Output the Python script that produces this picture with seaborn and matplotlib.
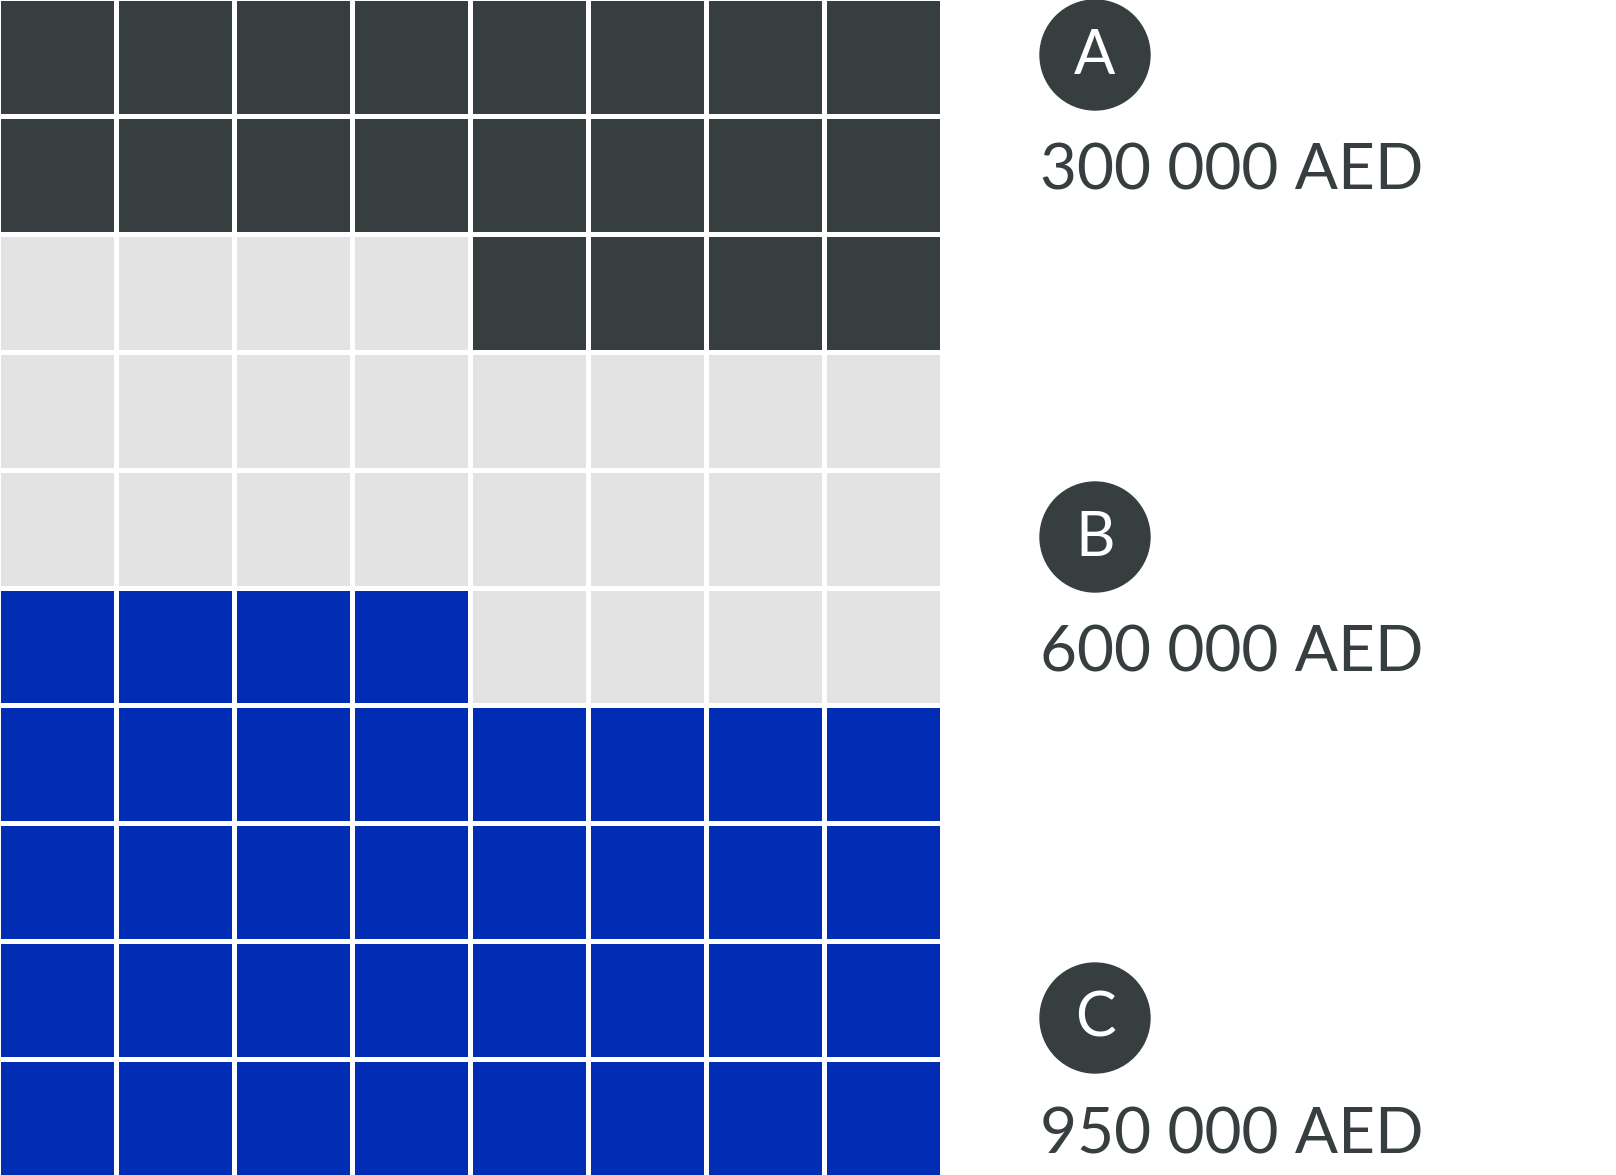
import numpy as np
import pandas as pd
import seaborn as sns
import matplotlib.pyplot as plt
from matplotlib.colors import ListedColormap
from matplotlib.patches import Circle

# Category data
labels = ["A", "B", "C"]
amounts = [300000, 600000, 950000]
cells = [20, 24, 36]          # squares per category in the waffle
colors = ["#373e40", "#e3e3e3", "#002db4"]
text_color = "#373e40"

n_rows, n_cols = 10, 8

# Waffle is filled from the bottom-left, row by row going up, starting with the last category
order = []
for idx in reversed(range(len(labels))):
    order += [idx] * cells[idx]
grid = np.array(order).reshape(n_rows, n_cols)[::-1]
waffle = pd.DataFrame(grid)

sns.set_theme(style="white")
plt.rcParams["font.family"] = ["Lato", "DejaVu Sans"]

W, H = 1616, 1175
fig = plt.figure(figsize=(W / 100, H / 100), dpi=100)

# push the outer half of the white grid lines off the canvas
lw = 2.4
h = lw * 100 / 72 / 2
ax = fig.add_axes([-h / W, -h / H, (940 + 2 * h) / W, (H + 2 * h) / H])
sns.heatmap(waffle, ax=ax, cmap=ListedColormap(colors), vmin=-0.5, vmax=2.5,
            cbar=False, linewidths=lw, linecolor="white",
            xticklabels=False, yticklabels=False)
ax.set_xlabel("")
ax.set_ylabel("")

# Labels on the right, in pixel coordinates
lab = fig.add_axes([0, 0, 1, 1])
lab.set_xlim(0, W)
lab.set_ylim(H, 0)
lab.axis("off")
lab.patch.set_alpha(0)

circle_y = [55, 537, 1018]
for name, amount, cy in zip(labels, amounts, circle_y):
    lab.add_patch(Circle((1095, cy), 55, color=text_color))
    lab.text(1095, cy + 1, name, color="white", fontsize=44, ha="center", va="center")
    lab.text(1040, cy + 135, f"{amount:,} AED".replace(",", " "), color=text_color,
             fontsize=46, ha="left", va="baseline")

fig.savefig("out.png", dpi=100)
